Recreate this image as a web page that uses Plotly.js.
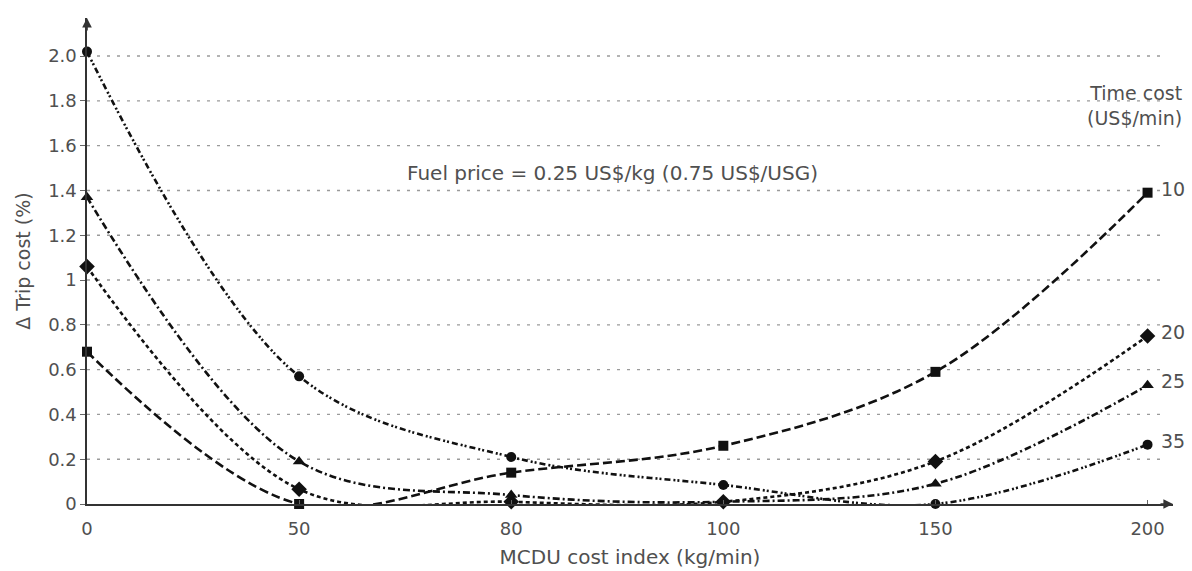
<!DOCTYPE html>
<html>
<head>
<meta charset="utf-8">
<script src="https://cdn.plot.ly/plotly-3.0.1.min.js"></script>
<style>html,body{margin:0;padding:0;background:#fff;}#chart{width:1192px;height:571px;}</style>
</head>
<body>
<div id="chart"></div>
<script>
// Categories (MCDU cost index, kg/min)
var costIndex = ['0', '50', '80', '100', '150', '200'];
// Δ Trip cost (%) per time cost (US$/min)
var timeCost10 = [0.68, 0.00, 0.14, 0.26, 0.59, 1.39];
var timeCost20 = [1.06, 0.066, 0.01, 0.01, 0.19, 0.75];
var timeCost25 = [1.37, 0.19, 0.04, 0.01, 0.09, 0.53];
var timeCost35 = [2.02, 0.57, 0.21, 0.085, 0.00, 0.265];
var seriesNames = ['10', '20', '25', '35'];
var yTickVals = [0, 0.2, 0.4, 0.6, 0.8, 1, 1.2, 1.4, 1.6, 1.8, 2.0];
var yTickText = ['0', '0.2', '0.4', '0.6', '0.8', '1', '1.2', '1.4', '1.6', '1.8', '2.0'];

var FONT = 'DejaVu Sans, Arial, sans-serif';
var TXT = '#505050';

var allSeries = [timeCost10, timeCost20, timeCost25, timeCost35];
var styles = [
  {dash: '9px,4px', symbol: 'square', size: 10},
  {dash: '4px,3px', symbol: 'diamond', size: 12},
  {dash: '7px,3px,2px,3px', symbol: 'triangle-up', size: 11},
  {dash: '6px,3px,2px,2px,2px,3px', symbol: 'circle', size: 10}
];

var traces = allSeries.map(function (ys, i) {
  return {
    type: 'scatter', mode: 'lines+markers',
    x: costIndex, y: ys, name: seriesNames[i],
    line: {color: '#111', width: 2.6, shape: 'spline', smoothing: 1, dash: styles[i].dash},
    marker: {color: '#111', symbol: styles[i].symbol, size: styles[i].size},
    cliponaxis: false, showlegend: false, hoverinfo: 'skip'
  };
});

var shapes = yTickVals.filter(function (v) { return v > 0; }).map(function (v) {
  return {type: 'line', xref: 'x', yref: 'y', x0: 0, x1: 5.06, y0: v, y1: v,
    line: {color: '#9a9a9a', width: 1.4, dash: '3px,7px'}, layer: 'below'};
});

var annotations = [];
allSeries.forEach(function (ys, i) {
  annotations.push({x: 5, y: ys[ys.length - 1], xref: 'x', yref: 'y', text: seriesNames[i],
    showarrow: false, xanchor: 'left', yanchor: 'middle', xshift: 11, yshift: 4,
    font: {family: FONT, size: 19, color: TXT}});
});
annotations.push({x: 1, y: 1.78, xref: 'paper', yref: 'y', xshift: 11,
  text: 'Time cost<br>(US$/min)', showarrow: false, xanchor: 'right', yanchor: 'middle', align: 'right',
  font: {family: FONT, size: 19, color: TXT}});
annotations.push({x: 1.5, y: 1.48, xref: 'x', yref: 'y',
  text: 'Fuel price = 0.25 US$/kg (0.75 US$/USG)', showarrow: false, xanchor: 'left',
  font: {family: FONT, size: 20, color: TXT}});
// axis arrowheads
annotations.push({x: 1, y: 0, xref: 'paper', yref: 'y', ax: -14, ay: 0, text: '',
  showarrow: true, arrowhead: 2, arrowsize: 1.2, arrowwidth: 1.6, arrowcolor: '#333', standoff: 0});
annotations.push({x: 0, y: 1, xref: 'x', yref: 'paper', ax: 0, ay: 14, text: '',
  showarrow: true, arrowhead: 2, arrowsize: 1.2, arrowwidth: 1.6, arrowcolor: '#333', standoff: 0});

var layout = {
  width: 1192, height: 571,
  margin: {l: 87, r: 19, t: 18, b: 67},
  paper_bgcolor: '#fff', plot_bgcolor: '#fff',
  xaxis: {
    type: 'category', range: [0, 5.12], showgrid: false, zeroline: false,
    showline: true, linecolor: '#333', linewidth: 1.6,
    ticks: 'inside', ticklen: 4, tickcolor: '#666', ticklabelstandoff: 8,
    tickfont: {family: FONT, size: 18, color: TXT},
    title: {text: 'MCDU cost index (kg/min)', font: {family: FONT, size: 20, color: TXT}, standoff: 12}
  },
  yaxis: {
    range: [0, 2.17], showgrid: false, zeroline: false,
    showline: true, linecolor: '#333', linewidth: 1.6,
    tickvals: yTickVals, ticktext: yTickText,
    ticks: 'outside', ticklen: 5, tickcolor: '#666',
    tickfont: {family: FONT, size: 18, color: TXT},
    title: {text: 'Δ Trip cost (%)', font: {family: FONT, size: 19, color: TXT}, standoff: 12}
  },
  shapes: shapes,
  annotations: annotations,
  showlegend: false
};

Plotly.newPlot('chart', traces, layout, {displayModeBar: false, staticPlot: true});
</script>
</body>
</html>
